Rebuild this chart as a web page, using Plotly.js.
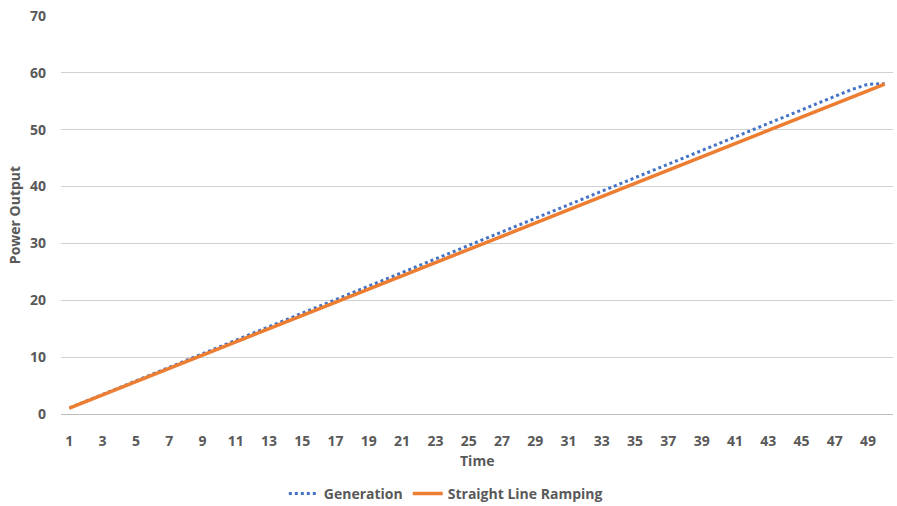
<!DOCTYPE html>
<html>
<head>
<meta charset="utf-8">
<script src="https://cdn.plot.ly/plotly-3.0.1.min.js"></script>
<style>html,body{margin:0;padding:0;background:#fff;}#chart{width:897px;height:506px;}</style>
</head>
<body>
<div id="chart"></div>
<script>
const timeSteps = [1,2,3,4,5,6,7,8,9,10,11,12,13,14,15,16,17,18,19,20,21,22,23,24,25,26,27,28,29,30,31,32,33,34,35,36,37,38,39,40,41,42,43,44,45,46,47,48,49,50];
const generation = [1.05,2.25,3.44,4.63,5.82,7.01,8.20,9.40,10.59,11.78,12.97,14.16,15.35,16.54,17.74,18.93,20.12,21.31,22.50,23.69,24.88,26.08,27.27,28.46,29.65,30.84,32.03,33.22,34.42,35.61,36.80,37.99,39.18,40.37,41.56,42.76,43.95,45.14,46.33,47.52,48.71,49.90,51.10,52.29,53.48,54.67,55.86,57.05,58.00,58.10];
const straightLineRamping = [1.05,2.21,3.37,4.54,5.70,6.86,8.02,9.19,10.35,11.51,12.67,13.83,15.00,16.16,17.32,18.48,19.65,20.81,21.97,23.13,24.29,25.46,26.62,27.78,28.94,30.11,31.27,32.43,33.59,34.75,35.92,37.08,38.24,39.40,40.57,41.73,42.89,44.05,45.21,46.38,47.54,48.70,49.86,51.03,52.19,53.35,54.51,55.67,56.84,58.00];
const seriesNames = ["Generation", "Straight Line Ramping"];
const xTitle = "Time";
const yTitle = "Power Output";

const fontFam = "Open Sans, Noto Sans, sans-serif";
const gray = "#595959";

const traces = [
  {x: timeSteps, y: generation, name: seriesNames[0], type: "scatter", mode: "lines",
   line: {color: "#4472C4", width: 3, dash: "dot"}},
  {x: timeSteps, y: straightLineRamping, name: seriesNames[1], type: "scatter", mode: "lines",
   line: {color: "#ED7D31", width: 3.5}}
];

const layout = {
  width: 897, height: 506,
  margin: {l: 61, r: 4, t: 16, b: 92},
  paper_bgcolor: "#fff", plot_bgcolor: "#fff",
  font: {family: fontFam, color: gray, size: 14, weight: "bold"},
  showlegend: true,
  legend: {orientation: "h", x: 0.497, xanchor: "center", xref: "container",
           y: 0.0237, yanchor: "middle", yref: "container",
           itemwidth: 30, tracegroupgap: 0,
           font: {family: fontFam, size: 14, color: gray, weight: "bold"}},
  xaxis: {
    automargin: false,
    range: [0.5, 50.5], tickmode: "linear", tick0: 1, dtick: 2,
    showgrid: false, zeroline: false, showline: true, linecolor: "#bfbfbf", linewidth: 1,
    ticks: "", ticklabelstandoff: 14,
    tickfont: {family: fontFam, size: 14, color: gray, weight: "bold"}
  },
  yaxis: {
    automargin: false,
    range: [0, 70], tickmode: "linear", tick0: 0, dtick: 10,
    showgrid: true, gridcolor: "#d0d0d0", gridwidth: 1, zeroline: false, showline: false,
    ticks: "", ticklabelstandoff: 14,
    tickfont: {family: fontFam, size: 14, color: gray, weight: "bold"},
    title: {text: yTitle, font: {family: fontFam, size: 14, color: gray, weight: "bold"}, standoff: 6}
  },
  annotations: [
    {text: xTitle, xref: "paper", yref: "paper", x: 0.5, y: -0.118, xanchor: "center", yanchor: "middle",
     showarrow: false, font: {family: fontFam, size: 14, color: gray, weight: "bold"}}
  ]
};

Plotly.newPlot("chart", traces, layout, {displayModeBar: false, staticPlot: true});
</script>
</body>
</html>
